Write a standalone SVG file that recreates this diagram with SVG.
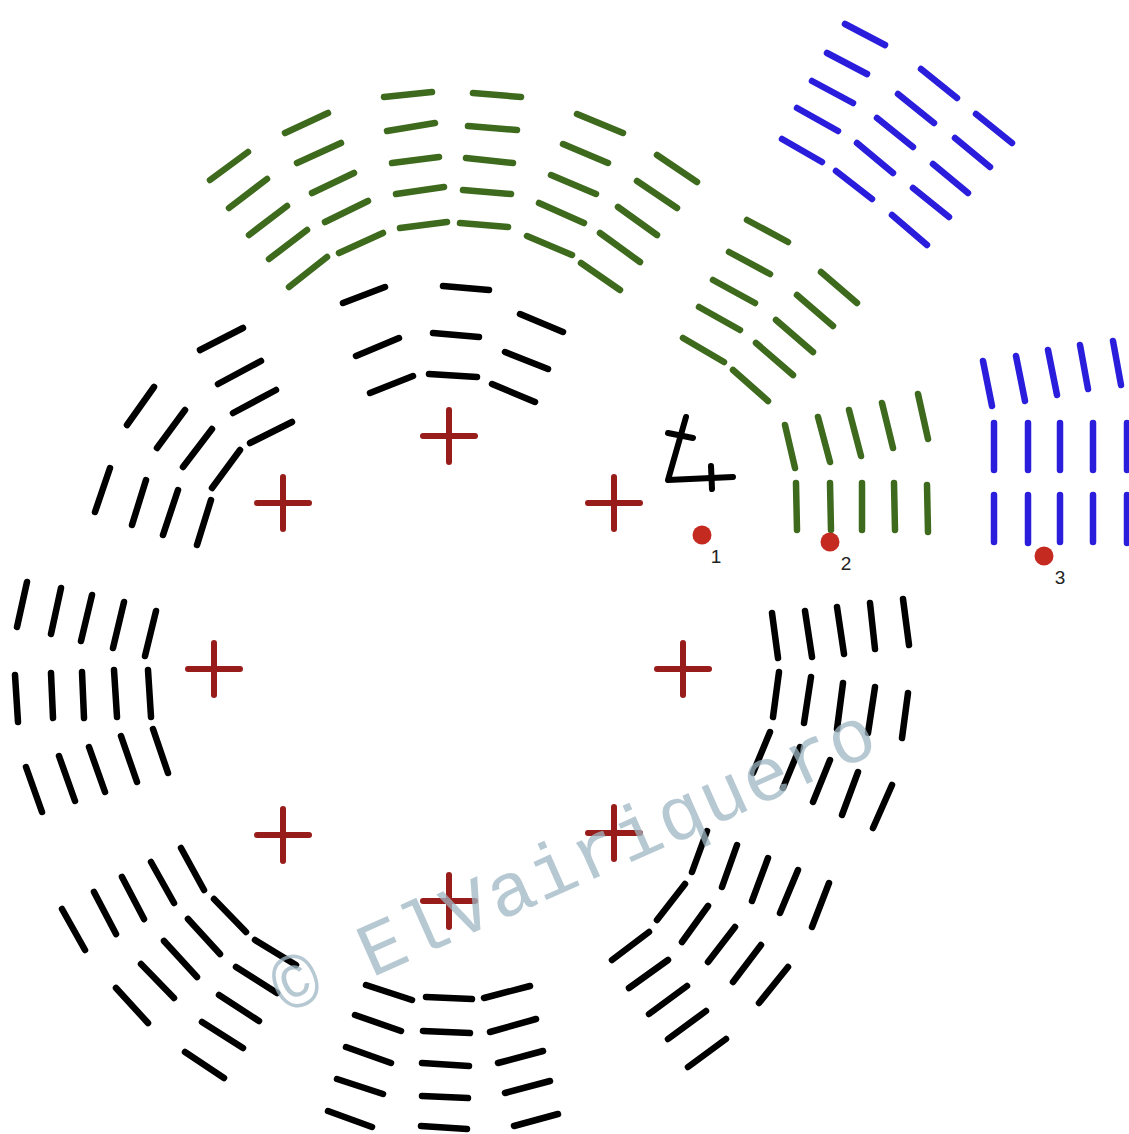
<svg xmlns="http://www.w3.org/2000/svg" width="1129" height="1134" viewBox="0 0 1129 1134">
<style>
  line { stroke-linecap: round; fill: none; }
  .k line { stroke: #000; stroke-width: 6.5; }
  .g line { stroke: #3d6a1d; stroke-width: 6.5; }
  .b line { stroke: #2a1edc; stroke-width: 6.5; }
  .x line { stroke: #981c1a; stroke-width: 6; }
  .dot { fill: #c52a20; }
  .lbl { font-family: "Liberation Sans", Arial, sans-serif; font-size: 19px; fill: #222; text-anchor: middle; }
  .wm { font-family: "Liberation Mono", "Courier New", monospace; font-size: 76px; fill: #9db6c3; fill-opacity: 0.75; letter-spacing: 1px; }
</style>
<rect width="1129" height="1134" fill="#fff"/>

<g id="black-top" class="k">
  <line x1="343" y1="303" x2="385" y2="287"/><line x1="443" y1="286" x2="489" y2="290"/><line x1="520" y1="314" x2="563" y2="332"/>
  <line x1="356" y1="356" x2="399" y2="338"/><line x1="433" y1="333" x2="479" y2="337"/><line x1="505" y1="352" x2="548" y2="369"/>
  <line x1="370" y1="393" x2="413" y2="376"/><line x1="429" y1="374" x2="477" y2="377"/><line x1="492" y1="384" x2="535" y2="402"/>
</g>
<g id="black-top-left" class="k">
  <line x1="200" y1="350" x2="243" y2="328"/><line x1="218" y1="384" x2="261" y2="361"/><line x1="233" y1="413" x2="276" y2="390"/><line x1="250" y1="443" x2="292" y2="422"/>
  <line x1="127" y1="425" x2="154" y2="387"/><line x1="157" y1="448" x2="185" y2="410"/><line x1="183" y1="467" x2="212" y2="429"/><line x1="212" y1="488" x2="240" y2="450"/>
  <line x1="95" y1="512" x2="110" y2="468"/><line x1="132" y1="525" x2="146" y2="480"/><line x1="163" y1="535" x2="178" y2="490"/><line x1="197" y1="545" x2="211" y2="500"/>
</g>
<g id="black-left" class="k">
  <line x1="17" y1="627" x2="27" y2="582"/><line x1="51" y1="634" x2="61" y2="588"/><line x1="81" y1="641" x2="92" y2="595"/><line x1="113" y1="648" x2="124" y2="602"/><line x1="145" y1="656" x2="156" y2="611"/>
  <line x1="15" y1="675" x2="18" y2="722"/><line x1="51" y1="673" x2="53" y2="718"/><line x1="82" y1="672" x2="84" y2="718"/><line x1="114" y1="670" x2="117" y2="717"/><line x1="148" y1="670" x2="151" y2="717"/>
  <line x1="26" y1="767" x2="42" y2="812"/><line x1="59" y1="756" x2="75" y2="801"/><line x1="89" y1="747" x2="105" y2="792"/><line x1="121" y1="736" x2="137" y2="782"/><line x1="153" y1="729" x2="168" y2="773"/>
</g>
<g id="black-bottom-left" class="k">
  <line x1="62" y1="909" x2="85" y2="950"/><line x1="94" y1="892" x2="116" y2="934"/><line x1="122" y1="877" x2="144" y2="919"/><line x1="151" y1="862" x2="174" y2="903"/><line x1="181" y1="848" x2="204" y2="890"/>
  <line x1="116" y1="988" x2="148" y2="1023"/><line x1="141" y1="964" x2="174" y2="998"/><line x1="164" y1="941" x2="197" y2="977"/><line x1="188" y1="919" x2="220" y2="954"/><line x1="214" y1="899" x2="246" y2="932"/>
  <line x1="185" y1="1052" x2="224" y2="1078"/><line x1="202" y1="1022" x2="243" y2="1048"/><line x1="219" y1="995" x2="259" y2="1021"/><line x1="236" y1="967" x2="277" y2="993"/><line x1="255" y1="940" x2="296" y2="965"/>
</g>
<g id="black-bottom" class="k">
  <line x1="366" y1="985" x2="412" y2="1000"/><line x1="355" y1="1015" x2="401" y2="1031"/><line x1="346" y1="1047" x2="391" y2="1063"/><line x1="337" y1="1079" x2="383" y2="1094"/><line x1="328" y1="1111" x2="372" y2="1127"/>
  <line x1="426" y1="997" x2="472" y2="999"/><line x1="423" y1="1031" x2="470" y2="1033"/><line x1="422" y1="1063" x2="469" y2="1066"/><line x1="422" y1="1096" x2="468" y2="1098"/><line x1="421" y1="1126" x2="467" y2="1129"/>
  <line x1="484" y1="998" x2="530" y2="986"/><line x1="490" y1="1032" x2="536" y2="1019"/><line x1="498" y1="1063" x2="543" y2="1051"/><line x1="505" y1="1093" x2="550" y2="1081"/><line x1="514" y1="1126" x2="558" y2="1114"/>
</g>
<g id="black-bottom-right" class="k">
  <line x1="707" y1="831" x2="692" y2="872"/><line x1="737" y1="845" x2="722" y2="887"/><line x1="768" y1="858" x2="752" y2="901"/><line x1="798" y1="870" x2="780" y2="913"/><line x1="829" y1="883" x2="812" y2="927"/>
  <line x1="685" y1="884" x2="657" y2="920"/><line x1="708" y1="906" x2="682" y2="942"/><line x1="735" y1="927" x2="708" y2="962"/><line x1="761" y1="945" x2="733" y2="982"/><line x1="788" y1="967" x2="759" y2="1003"/>
  <line x1="649" y1="932" x2="612" y2="960"/><line x1="668" y1="960" x2="629" y2="988"/><line x1="687" y1="986" x2="649" y2="1014"/><line x1="706" y1="1011" x2="668" y2="1039"/><line x1="726" y1="1039" x2="688" y2="1067"/>
</g>
<g id="black-right" class="k">
  <line x1="772" y1="613" x2="778" y2="658"/><line x1="805" y1="611" x2="812" y2="657"/><line x1="837" y1="607" x2="844" y2="654"/><line x1="870" y1="603" x2="875" y2="649"/><line x1="903" y1="599" x2="909" y2="645"/>
  <line x1="779" y1="672" x2="773" y2="717"/><line x1="811" y1="677" x2="804" y2="723"/><line x1="843" y1="683" x2="837" y2="729"/><line x1="875" y1="687" x2="868" y2="733"/><line x1="908" y1="693" x2="902" y2="738"/>
  <line x1="770" y1="732" x2="753" y2="773"/><line x1="800" y1="747" x2="783" y2="788"/><line x1="830" y1="760" x2="813" y2="802"/><line x1="858" y1="772" x2="842" y2="815"/><line x1="892" y1="785" x2="873" y2="828"/>
</g>

<g id="green-top" class="g">
  <line x1="210" y1="180" x2="248" y2="152"/><line x1="229" y1="208" x2="267" y2="179"/><line x1="249" y1="235" x2="287" y2="206"/><line x1="269" y1="259" x2="307" y2="230"/><line x1="289" y1="287" x2="327" y2="257"/>
  <line x1="285" y1="133" x2="328" y2="113"/><line x1="297" y1="163" x2="341" y2="143"/><line x1="312" y1="193" x2="354" y2="173"/><line x1="325" y1="222" x2="368" y2="201"/><line x1="339" y1="253" x2="383" y2="233"/>
  <line x1="384" y1="97" x2="432" y2="92"/><line x1="387" y1="131" x2="435" y2="123"/><line x1="392" y1="163" x2="439" y2="157"/><line x1="396" y1="194" x2="444" y2="187"/><line x1="400" y1="228" x2="447" y2="222"/>
  <line x1="473" y1="93" x2="521" y2="97"/><line x1="468" y1="126" x2="517" y2="130"/><line x1="466" y1="158" x2="513" y2="163"/><line x1="463" y1="190" x2="511" y2="194"/><line x1="460" y1="223" x2="508" y2="227"/>
  <line x1="577" y1="114" x2="623" y2="133"/><line x1="563" y1="144" x2="608" y2="163"/><line x1="551" y1="175" x2="596" y2="194"/><line x1="539" y1="203" x2="584" y2="223"/><line x1="527" y1="236" x2="572" y2="255"/>
  <line x1="657" y1="155" x2="697" y2="182"/><line x1="637" y1="181" x2="677" y2="208"/><line x1="618" y1="207" x2="657" y2="235"/><line x1="600" y1="233" x2="640" y2="262"/><line x1="581" y1="263" x2="620" y2="290"/>
</g>
<g id="green-upper-right" class="g">
  <line x1="747" y1="220" x2="788" y2="242"/><line x1="729" y1="252" x2="770" y2="274"/><line x1="713" y1="280" x2="755" y2="303"/><line x1="699" y1="307" x2="740" y2="330"/><line x1="683" y1="338" x2="724" y2="362"/>
  <line x1="821" y1="272" x2="857" y2="303"/><line x1="797" y1="295" x2="833" y2="326"/><line x1="776" y1="320" x2="813" y2="352"/><line x1="756" y1="343" x2="793" y2="375"/><line x1="733" y1="370" x2="768" y2="401"/>
</g>
<g id="green-right" class="g">
  <line x1="785" y1="425" x2="795" y2="468"/><line x1="818" y1="417" x2="830" y2="462"/><line x1="849" y1="410" x2="861" y2="456"/><line x1="882" y1="403" x2="893" y2="448"/><line x1="918" y1="394" x2="928" y2="439"/>
  <line x1="796" y1="483" x2="797" y2="530"/><line x1="830" y1="483" x2="831" y2="530"/><line x1="862" y1="483" x2="862" y2="530"/><line x1="894" y1="483" x2="895" y2="530"/><line x1="927" y1="485" x2="928" y2="532"/>
</g>

<g id="blue-top" class="b">
  <line x1="845" y1="24" x2="885" y2="45"/><line x1="827" y1="53" x2="867" y2="74"/><line x1="812" y1="81" x2="853" y2="103"/><line x1="797" y1="108" x2="838" y2="131"/><line x1="782" y1="139" x2="822" y2="162"/>
  <line x1="921" y1="69" x2="957" y2="98"/><line x1="898" y1="94" x2="934" y2="123"/><line x1="877" y1="118" x2="913" y2="147"/><line x1="857" y1="143" x2="893" y2="173"/><line x1="836" y1="171" x2="872" y2="199"/>
  <line x1="976" y1="114" x2="1012" y2="143"/><line x1="955" y1="138" x2="990" y2="167"/><line x1="933" y1="164" x2="968" y2="193"/><line x1="913" y1="188" x2="949" y2="217"/><line x1="892" y1="215" x2="927" y2="245"/>
</g>
<g id="blue-right" class="b">
  <line x1="983" y1="361" x2="992" y2="406"/><line x1="1016" y1="356" x2="1025" y2="401"/><line x1="1048" y1="350" x2="1057" y2="395"/><line x1="1080" y1="345" x2="1088" y2="389"/><line x1="1113" y1="341" x2="1121" y2="385"/>
  <line x1="994" y1="423" x2="994" y2="470"/><line x1="1028" y1="423" x2="1028" y2="470"/><line x1="1060" y1="423" x2="1060" y2="470"/><line x1="1093" y1="423" x2="1093" y2="470"/><line x1="1127" y1="423" x2="1127" y2="470"/>
  <line x1="994" y1="495" x2="994" y2="542"/><line x1="1028" y1="495" x2="1028" y2="543"/><line x1="1060" y1="495" x2="1060" y2="542"/><line x1="1093" y1="495" x2="1093" y2="542"/><line x1="1127" y1="495" x2="1127" y2="543"/>
</g>

<g id="crosses" class="x">
  <line x1="423" y1="436" x2="475" y2="436"/><line x1="449" y1="410" x2="449" y2="462"/>
  <line x1="588" y1="503" x2="640" y2="503"/><line x1="614" y1="477" x2="614" y2="529"/>
  <line x1="657" y1="669" x2="709" y2="669"/><line x1="683" y1="643" x2="683" y2="695"/>
  <line x1="588" y1="833" x2="640" y2="833"/><line x1="614" y1="807" x2="614" y2="859"/>
  <line x1="423" y1="901" x2="475" y2="901"/><line x1="449" y1="875" x2="449" y2="927"/>
  <line x1="257" y1="835" x2="309" y2="835"/><line x1="283" y1="809" x2="283" y2="861"/>
  <line x1="188" y1="669" x2="240" y2="669"/><line x1="214" y1="643" x2="214" y2="695"/>
  <line x1="257" y1="503" x2="309" y2="503"/><line x1="283" y1="477" x2="283" y2="529"/>
</g>

<g id="t-symbol" fill="none" stroke="#000" stroke-width="6" stroke-linecap="round" stroke-linejoin="round">
  <path d="M686,417 L668,480 L733,477"/>
  <path d="M668,433 L693,438"/>
  <path d="M711,466 L712,489"/>
</g>

<g id="point-1"><circle class="dot" cx="702" cy="535" r="9.5"/><text class="lbl" x="716" y="563">1</text></g>
<g id="point-2"><circle class="dot" cx="830" cy="542" r="9.5"/><text class="lbl" x="846" y="570">2</text></g>
<g id="point-3"><circle class="dot" cx="1044" cy="556" r="9.5"/><text class="lbl" x="1060" y="584">3</text></g>

<g id="watermark" transform="translate(286,1016) rotate(-24)">
  <text class="wm" x="0" y="0">© ElVairiquero</text>
</g>
</svg>
